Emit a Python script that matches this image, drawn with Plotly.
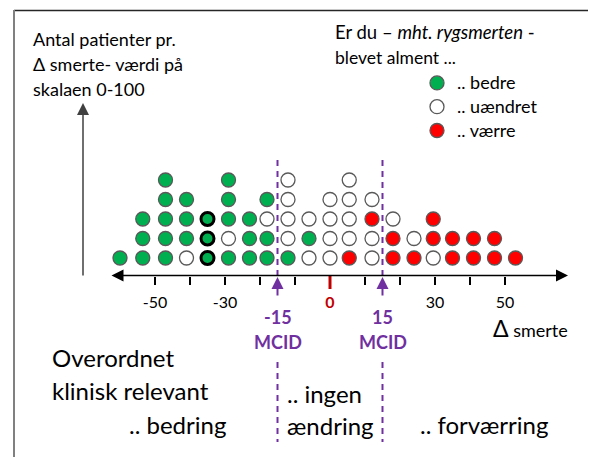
import plotly.graph_objects as go

# the page body has an 8px margin, so the figure is drawn 8px smaller and
# every pixel position below is given in window coordinates
OFF = 8
W, H = 596 - OFF, 457 - OFF

# Delta pain value per column and the answers stacked in it (bottom -> top)
# g = bedre, b = bedre (bold outline), w = uændret, r = værre
delta_values = [-60, -53.5, -47, -41, -35, -29, -23, -18, -12, -6,
                0, 5.5, 12, 18, 24, 29.5, 35, 41, 47, 53]
answers = ["g", "ggg", "ggggg", "wggg", "bbb", "gwggg", "ggg", "ggwg", "gwwww", "wgw",
           "wwww", "rwwww", "wwrw", "rrw", "rw", "wrr", "rr", "rr", "rr", "r"]

tick_values = [-50, -40, -30, -20, -10, 0, 10, 20, 30, 40, 50]
tick_labels = ["-50", "", "-30", "", "", "<b><span style='color:#C00000'>0</span></b>",
               "", "", "30", "", "50"]
mcid_values = [-15, 15]

GREEN = "#00B050"
RED = "#FF0000"
PURPLE = "#7030A0"
FONT = "Lato"


def px(x):
    return (x - OFF) / W


def py(y):
    return 1 - (y - OFF) / H


# window pixel mapping: x = 330 + 3.5 * value ; y = 258 - 19.5 * (row - 1)
X0, Y0 = 330 - OFF, 258 - OFF
x_range = [-X0 / 3.5, (W - X0) / 3.5]
y_range = [1 + (Y0 - H) / 19.5, 1 + Y0 / 19.5]

groups = {"g": ([], []), "b": ([], []), "w": ([], []), "r": ([], [])}
for xv, stack in zip(delta_values, answers):
    for i, code in enumerate(stack):
        groups[code][0].append(xv)
        groups[code][1].append(i + 1)

fig = go.Figure()

styles = [
    ("g", ".. bedre", GREEN, "#595959", 1.3, True),
    ("w", ".. uændret", "white", "#595959", 1.3, True),
    ("r", ".. værre", RED, "#595959", 1.3, True),
    ("b", "bold", GREEN, "black", 3, False),
]
for code, name, fill, edge, lw, show in styles:
    xs, ys = groups[code]
    fig.add_trace(go.Scatter(
        x=xs, y=ys, mode="markers", showlegend=show,
        name="<span style='font-size:18px'>%s</span>" % name,
        marker=dict(size=14 if code != "b" else 13, color=fill,
                    line=dict(color=edge, width=lw)),
        hoverinfo="skip",
    ))

shapes = []
# frame
shapes.append(dict(type="line", xref="paper", yref="paper", x0=px(14), x1=1,
                   y0=py(10.5), y1=py(10.5), line=dict(color="#262626", width=1.5)))
shapes.append(dict(type="line", xref="paper", yref="paper", x0=px(14), x1=px(14),
                   y0=py(10), y1=0, line=dict(color="#808080", width=2)))
# MCID dashed lines
for m in mcid_values:
    for y0, y1 in [(160, 280), (362, 442)]:
        shapes.append(dict(type="line", xref="x", yref="paper", x0=m, x1=m,
                           y0=py(y0), y1=py(y1), layer="below",
                           line=dict(color=PURPLE, width=2, dash="6px,5px")))
# red zero tick
shapes.append(dict(type="line", xref="x", yref="paper", x0=0, x1=0,
                   y0=py(276), y1=py(289), line=dict(color="#C00000", width=3)))

annotations = []
# horizontal axis arrow (both ends)
annotations.append(dict(xref="paper", yref="paper", x=px(568), y=py(275.5), text="",
                        showarrow=True, ax=110 - 568, ay=0, arrowside="end+start",
                        arrowhead=2, arrowsize=1.6, arrowwidth=1.5, arrowcolor="black"))
# vertical arrow
annotations.append(dict(xref="paper", yref="paper", x=px(83), y=py(103), text="",
                        showarrow=True, ax=0, ay=174, arrowhead=2, arrowsize=1.6,
                        arrowwidth=1.5, arrowcolor="#404040"))
# MCID arrows and labels
for m in mcid_values:
    annotations.append(dict(xref="x", yref="paper", x=m, y=py(277), text="",
                            showarrow=True, ax=0, ay=20, arrowhead=2, arrowsize=1.2,
                            arrowwidth=2, arrowcolor=PURPLE))
    annotations.append(dict(xref="x", yref="paper", x=m, y=py(317),
                            text="<b>%d</b>" % m, showarrow=False,
                            xanchor="center", yanchor="middle",
                            font=dict(family=FONT, size=18, color=PURPLE)))
    annotations.append(dict(xref="x", yref="paper", x=m, y=py(342), text="<b>MCID</b>",
                            showarrow=False, xanchor="center", yanchor="middle",
                            font=dict(family=FONT, size=18, color=PURPLE)))


def text(x, y, s, size, anchor="left"):
    annotations.append(dict(xref="paper", yref="paper", x=px(x), y=py(y), text=s,
                            showarrow=False, xanchor=anchor, yanchor="middle",
                            font=dict(family=FONT, size=size, color="black")))


text(31, 39, "Antal patienter pr.", 18)
text(31, 64, "Δ smerte- værdi på", 18)
text(31, 89, "skalaen 0-100", 18)
text(333, 32, "Er du – <i>mht. rygsmerten</i> -", 18.5)
text(333, 57, "blevet alment ...", 17.5)
text(491, 328, "<span style='font-size:23px'>Δ</span> smerte", 18)
text(50, 357, "Overordnet", 24)
text(50, 390, "klinisk relevant", 24)
text(127, 424, ".. bedring", 24)
text(285, 393, ".. ingen", 24)
text(285, 425, "ændring", 24)
text(418, 424, ".. forværring", 24)

fig.update_layout(
    width=W, height=H,
    margin=dict(l=0, r=0, t=0, b=0),
    paper_bgcolor="white", plot_bgcolor="white",
    showlegend=True,
    legend=dict(x=px(417), y=py(66), xanchor="left", yanchor="top",
                bgcolor="rgba(0,0,0,0)", font=dict(family=FONT, size=16, color="black"),
                itemsizing="trace"),
    xaxis=dict(range=x_range, domain=[0, 1], anchor="free", position=py(275.5),
               showgrid=False, zeroline=False, showline=False,
               tickmode="array", tickvals=tick_values, ticktext=tick_labels,
               ticks="outside", ticklen=8, tickwidth=2, tickcolor="black",
               ticklabelstandoff=4,
               tickfont=dict(family=FONT, size=16, color="black")),
    yaxis=dict(range=y_range, domain=[0, 1], visible=False),
    shapes=shapes,
    annotations=annotations,
)

fig.write_html("out.html")
